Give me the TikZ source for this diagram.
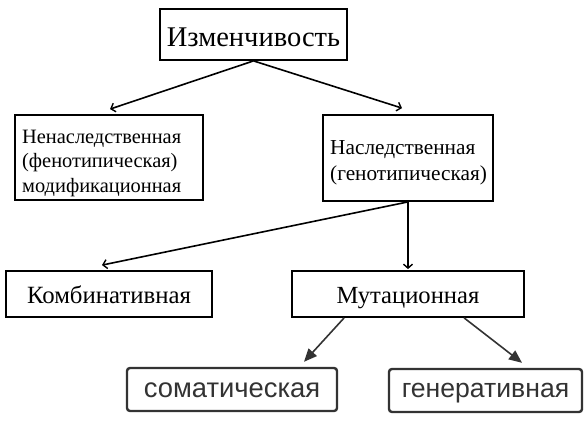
\documentclass[tikz,border=0pt]{standalone}
\usepackage{fontspec}
\setmainfont{Liberation Serif}
\newfontfamily\bsans{Liberation Sans}
\usetikzlibrary{arrows.meta,calc}
\definecolor{dgray}{HTML}{333333}
\tikzset{
  sqbox/.style={draw=black, line width=1.8pt, inner sep=0pt, align=center, text depth=0pt},
  rbox/.style={draw=dgray, line width=2.4pt, rounded corners=3pt, inner sep=0pt, text=dgray, text depth=0pt},
  txt/.style={inner sep=0pt, anchor=base west, align=left},
  openarr/.style={line width=1.6pt, -{Straight Barb[length=4pt,width=9pt,line width=1.4pt]}},
  fillarr/.style={draw=dgray, line width=1.6pt, -{Triangle[length=13pt,width=11pt]}, dgray},
}
\begin{document}
\begin{tikzpicture}[x=1pt,y=-1pt]
\useasboundingbox (0,0) rectangle (585,422);
\node[sqbox, minimum width=187pt, minimum height=51pt, text height=25pt, font=\fontsize{28.5}{30}\selectfont] (top) at (253.5,34.5) {Изменчивость};
\node[sqbox, minimum width=188pt, minimum height=85pt] (nonher) at (109,157.5) {};
\node[txt, font=\fontsize{20.4}{24.5}\selectfont] (nonhertxt) at (22,192)
  {Ненаследственная\\(фенотипическая)\\модификационная};
\node[sqbox, minimum width=170pt, minimum height=86pt] (her) at (408,158) {};
\node[txt, font=\fontsize{21.3}{26}\selectfont] (hertxt) at (330,180)
  {Наследственная\\(генотипическая)};
\node[sqbox, minimum width=206pt, minimum height=46pt, text height=18pt, font=\fontsize{24.8}{26}\selectfont] (komb) at (109,294) {Комбинативная};
\node[sqbox, minimum width=232pt, minimum height=46pt, text height=18pt, font=\fontsize{24.6}{26}\selectfont] (mut) at (408,294) {Мутационная};
\node[rbox, minimum width=210pt, minimum height=43pt, text height=15pt, font=\bsans\fontsize{27.4}{30}\selectfont] (som) at (232,389.5) {соматическая};
\node[rbox, minimum width=193pt, minimum height=43pt, text height=14pt, font=\bsans\fontsize{26.6}{30}\selectfont] (gen) at (485.5,390.5) {генеративная};
\draw[openarr] (top.south) -- ($(nonher.north)+(1,-5)$);
\draw[openarr] (top.south) -- ($(her.north)+(-6,-6)$);
\draw[openarr] (her.south) -- ($(komb.north)+(-7,-5)$);
\draw[openarr] (her.south) -- ($(mut.north)+(0,-1)$);
\draw[fillarr] ($(mut.south west)+(53,0)$) -- ($(som.north)+(72,-5)$);
\draw[fillarr] ($(mut.south west)+(173,0)$) -- ($(gen.north)+(36.5,-5)$);
\end{tikzpicture}
\end{document}
